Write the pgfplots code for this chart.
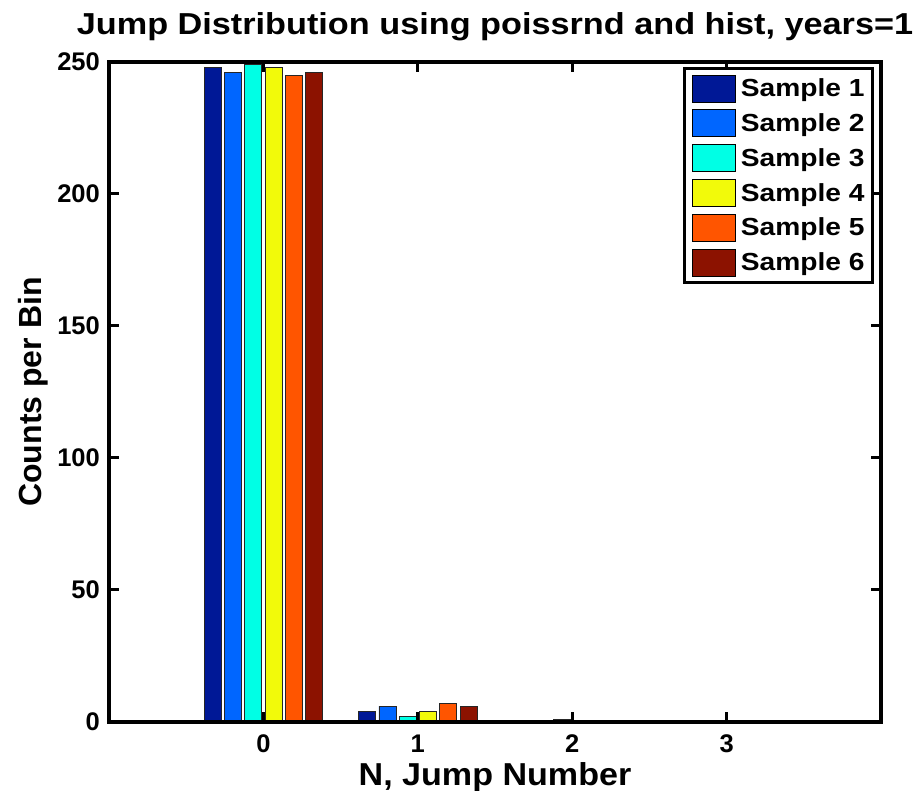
\documentclass[border=0pt]{standalone}
\usepackage{fontspec}
\setmainfont{Liberation Sans}
\newfontfamily\titlefont{Liberation Sans}[FakeStretch=1.13]
\newfontfamily\legfont{Liberation Sans}[FakeStretch=1.14]
\newfontfamily\xlabfont{Liberation Sans}[FakeStretch=1.075]
\usepackage{pgfplots}
\pgfplotsset{compat=1.18}
\definecolor{c1}{RGB}{0,24,150}
\definecolor{c2}{RGB}{0,102,255}
\definecolor{c3}{RGB}{0,255,229}
\definecolor{c4}{RGB}{242,250,10}
\definecolor{c5}{RGB}{255,85,0}
\definecolor{c6}{RGB}{140,18,0}
\pgfplotsset{mylegend/.style={legend image code/.code={\draw[##1,draw=black,line width=0.8pt] (0pt,-13.5pt) rectangle (43pt,13.5pt);}}}
\begin{document}
\begin{tikzpicture}
\begin{axis}[
  scale only axis, width=772pt, height=660pt,
  xmin=-1, xmax=4, ymin=0, ymax=250,
  ybar=3.3pt, bar width=17pt,
  xtick={0,1,2,3}, ytick={0,50,100,150,200,250},
  tick align=inside, major tick length=10pt,
  every tick/.style={black, line width=3pt},
  axis line style={line width=4pt},
  axis on top,
  /pgf/number format/assume math mode=true,
  tick label style={font=\fontsize{25.5}{25.5}\selectfont\bfseries},
  xticklabel style={anchor=base, inner sep=0pt, yshift=-31pt},
  yticklabel style={anchor=east, inner sep=0pt, xshift=-9pt},
  xlabel={N, Jump Number},
  ylabel={Counts per Bin},
  xlabel style={at={(axis description cs:0.5,-0.0955)}, anchor=base, inner sep=0pt, font=\xlabfont\fontsize{31.7}{31.7}\selectfont\bfseries},
  ylabel style={at={(axis description cs:-0.0868,0.5)}, anchor=base, inner sep=0pt, font=\fontsize{32}{32}\selectfont\bfseries},
  every axis title shift=0pt,
  title={Jump Distribution using poissrnd and hist, years=1},
  title style={at={(axis description cs:0.5,1.0409)}, anchor=base, inner sep=0pt, font=\titlefont\fontsize{30.3}{30.3}\selectfont\bfseries},
  legend cell align=left,
  legend style={at={(axis description cs:0.9909,0.9924)}, anchor=north east, draw=black, line width=3pt, fill=white,
    inner xsep=8pt, inner ysep=6pt, row sep=7pt, nodes={inner sep=0pt},
    /tikz/every odd column/.append style={column sep=5pt},
    font=\legfont\fontsize{24.7}{24.7}\selectfont\bfseries},
  every axis plot post/.append style={mylegend},
]
\addplot[fill=c1, draw=black!85, line width=0.7pt] coordinates {(0,248) (1,4) (2,0) (3,0)};
\addplot[fill=c2, draw=black!85, line width=0.7pt] coordinates {(0,246) (1,6) (2,0) (3,0)};
\addplot[fill=c3, draw=black!85, line width=0.7pt] coordinates {(0,249) (1,2) (2,1) (3,0)};
\addplot[fill=c4, draw=black!85, line width=0.7pt] coordinates {(0,248) (1,4) (2,0) (3,0)};
\addplot[fill=c5, draw=black!85, line width=0.7pt] coordinates {(0,245) (1,7) (2,0) (3,0)};
\addplot[fill=c6, draw=black!85, line width=0.7pt] coordinates {(0,246) (1,6) (2,0) (3,0)};
\legend{Sample 1,Sample 2,Sample 3,Sample 4,Sample 5,Sample 6}
\coordinate (SW) at (rel axis cs:0,0);
\coordinate (NE) at (rel axis cs:1,1);
\end{axis}
\pgfresetboundingbox
\useasboundingbox ([xshift=-109pt,yshift=-69pt]SW) rectangle ([xshift=36pt,yshift=62pt]NE);
\end{tikzpicture}
\end{document}
